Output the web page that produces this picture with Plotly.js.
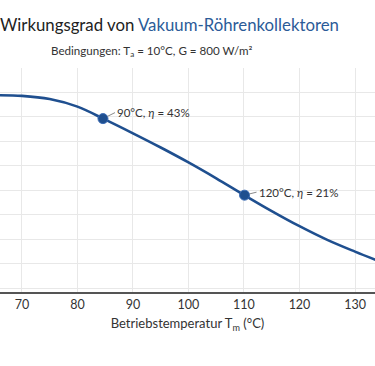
<!DOCTYPE html>
<html>
<head>
<meta charset="utf-8">
<script src="https://cdn.plot.ly/plotly-3.0.1.min.js"></script>
<style>html,body{margin:0;padding:0;background:#fff}#chart{width:375px;height:366px}</style>
</head>
<body>
<div id="chart"></div>
<script>
// Temperature (°C) and efficiency curve (chart units)
const temperature = [64, 65, 70, 75, 80, 85, 90, 95, 100, 105, 110, 115, 120, 125, 130, 135];
const efficiency  = [78.9, 78.9, 78.6, 77.3, 74.2, 68.9, 63.3, 57.5, 51.4, 44.9, 38.1, 31.5, 25.3, 19.7, 14.9, 10.4];

// Highlighted points
const pointX = [84.6, 110.1];
const pointY = [69.3, 38.0];
const pointLabels = ["90°C, <i>η</i> = 43%", "120°C, <i>η</i> = 21%"];

const xTicks = [70, 80, 90, 100, 110, 120, 130];

const FONT = "Lato, 'Noto Sans', sans-serif";
const BLUE = "#1f4f8f";

const traces = [
  {
    x: temperature, y: efficiency, type: "scatter", mode: "lines",
    line: {color: BLUE, width: 2.6, shape: "spline", smoothing: 1},
    hoverinfo: "skip", showlegend: false
  },
  {
    x: pointX, y: pointY, type: "scatter", mode: "markers",
    marker: {color: BLUE, size: 10, line: {color: "#3a6bb5", width: 1}},
    showlegend: false
  }
];

const offsets = [[12, -6], [12, -3]];
const annotations = pointX.map((x, i) => ({
  x: x, y: pointY[i], xref: "x", yref: "y",
  text: pointLabels[i], showarrow: true, arrowhead: 0, arrowwidth: 1,
  arrowcolor: "#8a8a8a", ax: offsets[i][0], ay: offsets[i][1], standoff: 5,
  xanchor: "left", yanchor: "middle",
  font: {family: FONT, size: 11.5, color: "#333"}
}));
annotations.push({
  xref: "paper", yref: "paper", x: 0.405, y: 1.075,
  text: "Bedingungen: T<sub>a</sub> = 10°C, G = 800 W/m²",
  showarrow: false, xanchor: "center", yanchor: "middle",
  font: {family: FONT, size: 11.6, color: "#333"}
});

const layout = {
  width: 375, height: 366,
  margin: {l: 0, r: 0, t: 67.5, b: 74},
  paper_bgcolor: "#fff", plot_bgcolor: "#fff",
  font: {family: FONT, color: "#333"},
  title: {
    text: "Wirkungsgrad von <span style='color:#2b5b98'>Vakuum-Röhrenkollektoren</span>",
    xref: "container", x: 0, xanchor: "left",
    yref: "container", y: 1 - 25 / 366, yanchor: "middle",
    font: {family: FONT, size: 16.8, color: "#222"}
  },
  xaxis: {
    range: [66.05, 133.6],
    tickvals: xTicks, ticktext: xTicks.map(String),
    showgrid: true, gridcolor: "#e8e8e8", gridwidth: 1,
    zeroline: false, showline: true, linecolor: "#555", linewidth: 1.6,
    ticks: "", tickfont: {family: FONT, size: 12.5, color: "#333"},
    title: {text: "Betriebstemperatur T<sub>m</sub> (°C)", standoff: 8,
            font: {family: FONT, size: 13, color: "#333"}},
    fixedrange: true
  },
  yaxis: {
    range: [-1.6, 90], dtick: 10, tick0: 0,
    showgrid: true, gridcolor: "#e8e8e8", gridwidth: 1,
    zeroline: false, showline: false, showticklabels: false, ticks: "",
    fixedrange: true
  },
  annotations: annotations,
  showlegend: false
};

Plotly.newPlot("chart", traces, layout, {displayModeBar: false, staticPlot: true});
</script>
</body>
</html>
